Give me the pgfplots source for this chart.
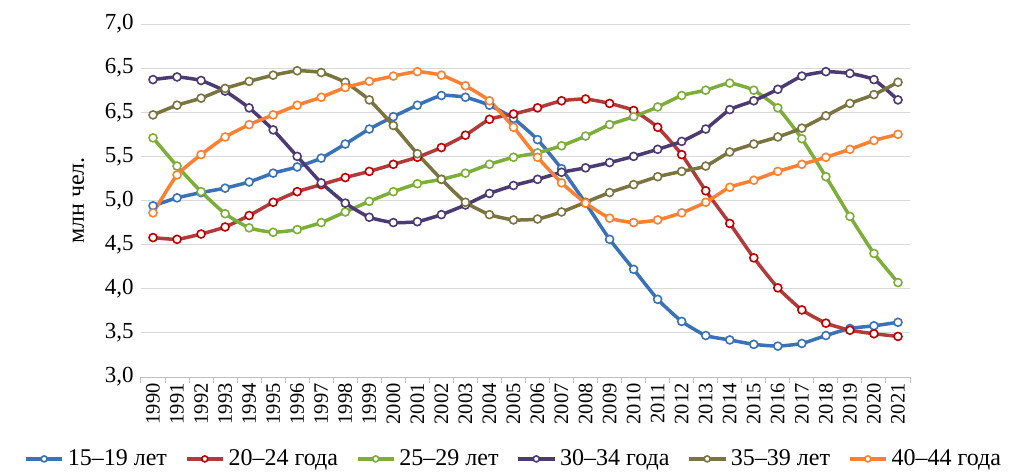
\documentclass[border=0pt]{standalone}
\usepackage{fontspec}
\setmainfont{Liberation Serif}
\usepackage{pgfplots}
\usepackage{pgfplotstable}
\pgfplotsset{compat=1.18}

\definecolor{cblue}{HTML}{3A72B8}
\definecolor{cred}{HTML}{B23A3A}
\definecolor{credm}{HTML}{C00000}
\definecolor{cgreen}{HTML}{7DAE3A}
\definecolor{cpurple}{HTML}{4C3A72}
\definecolor{colive}{HTML}{7A7440}
\definecolor{corange}{HTML}{FF8030}
\definecolor{cgrid}{HTML}{D9D9D9}
\definecolor{caxis}{HTML}{BFBFBF}

\pgfplotstableread{
year a b c d e f
1990 4.94 4.58 5.71 6.37 5.97 4.86
1991 5.03 4.56 5.39 6.40 6.08 5.29
1992 5.09 4.62 5.10 6.36 6.16 5.52
1993 5.14 4.70 4.85 6.24 6.27 5.72
1994 5.21 4.83 4.69 6.05 6.35 5.86
1995 5.31 4.98 4.64 5.80 6.42 5.97
1996 5.38 5.10 4.67 5.50 6.47 6.08
1997 5.48 5.18 4.75 5.20 6.45 6.17
1998 5.64 5.26 4.87 4.97 6.34 6.28
1999 5.81 5.33 4.99 4.81 6.14 6.35
2000 5.95 5.41 5.10 4.75 5.85 6.41
2001 6.08 5.49 5.19 4.76 5.53 6.46
2002 6.19 5.60 5.24 4.84 5.24 6.42
2003 6.17 5.74 5.31 4.95 4.98 6.30
2004 6.08 5.92 5.41 5.08 4.84 6.13
2005 5.93 5.98 5.49 5.17 4.78 5.83
2006 5.69 6.05 5.54 5.24 4.79 5.49
2007 5.36 6.13 5.62 5.32 4.87 5.20
2008 4.97 6.15 5.73 5.37 4.98 4.97
2009 4.56 6.10 5.86 5.43 5.09 4.80
2010 4.22 6.02 5.95 5.50 5.18 4.75
2011 3.88 5.83 6.06 5.58 5.27 4.78
2012 3.63 5.52 6.19 5.67 5.33 4.86
2013 3.47 5.11 6.25 5.81 5.39 4.98
2014 3.42 4.74 6.33 6.03 5.55 5.15
2015 3.37 4.35 6.25 6.13 5.64 5.23
2016 3.35 4.01 6.05 6.26 5.72 5.33
2017 3.38 3.76 5.70 6.41 5.82 5.41
2018 3.47 3.61 5.27 6.46 5.96 5.49
2019 3.55 3.53 4.82 6.44 6.10 5.58
2020 3.58 3.49 4.40 6.37 6.20 5.68
2021 3.62 3.46 4.07 6.14 6.34 5.75
}\datatable

\begin{document}
\rmfamily\fontsize{22}{26}\selectfont
\begin{tikzpicture}
\useasboundingbox (-141pt,-98pt) rectangle (878pt,377pt);
\begin{axis}[
  at={(0pt,0pt)}, anchor=south west,
  scale only axis,
  width=769pt, height=353pt,
  xmin=1989.5, xmax=2021.5,
  ymin=3, ymax=7,
  axis x line*=bottom,
  axis y line*=left,
  y axis line style={draw=none},
  x axis line style={draw=caxis, line width=1pt},
  ytick={3,3.5,4,4.5,5,5.5,6,6.5,7},
  yticklabels={{3,0},{3,5},{4,0},{4,5},{5,0},{5,5},{6,5},{6,5},{7,0}},
  ytick style={draw=none},
  xtick={1990,...,2021},
  xticklabels={1990,1991,1992,1993,1994,1995,1996,1997,1998,1999,2000,2001,2002,2003,2004,2005,2006,2007,2008,2009,2010,2011,2012,2013,2014,2015,2016,2017,2018,2019,2020,2021},
  major x tick style={draw=none},
  minor xtick={1989.5,1990.5,...,2021.5},
  minor x tick style={draw=caxis, line width=1pt},
  minor tick length=6pt,
  tick align=outside,
  x tick label style={rotate=90, anchor=east, font=\rmfamily\fontsize{20.5}{24}\selectfont, inner sep=2pt},
  y tick label style={font=\rmfamily\fontsize{23}{26}\selectfont, inner sep=3pt},
  ymajorgrids,
  major grid style={draw=cgrid, line width=1pt},
  ylabel={млн чел.},
  ylabel style={font=\rmfamily\fontsize{24}{28}\selectfont, yshift=10pt},
  legend columns=6,
  legend style={draw=none, fill=none, at={(0.484,-0.232)}, anchor=center,
    font=\rmfamily\fontsize{24}{26}\selectfont,
    nodes={inner sep=1pt},
    /tikz/every even column/.append style={column sep=17pt},
    /tikz/every odd column/.append style={column sep=3pt},
    inner sep=0pt},
  legend image code/.code={
    \draw[#1, mark repeat=2, mark phase=2, mark size=3pt] plot coordinates {(0pt,0pt) (18pt,0pt) (36pt,0pt)};
  },
  every axis plot/.append style={line width=3.5pt, mark=*, mark size=4pt, smooth, tension=0.3},
]
\addplot[cblue, mark options={fill=white, draw=cblue, line width=1.6pt}] table[x=year,y=a]{\datatable};
\addlegendentry{15–19 лет}
\addplot[cred, mark options={fill=white, draw=credm, line width=1.6pt}] table[x=year,y=b]{\datatable};
\addlegendentry{20–24 года}
\addplot[cgreen, mark options={fill=white, draw=cgreen, line width=1.6pt}] table[x=year,y=c]{\datatable};
\addlegendentry{25–29 лет}
\addplot[cpurple, mark options={fill=white, draw=cpurple, line width=1.6pt}] table[x=year,y=d]{\datatable};
\addlegendentry{30–34 года}
\addplot[colive, mark options={fill=white, draw=colive, line width=1.6pt}] table[x=year,y=e]{\datatable};
\addlegendentry{35–39 лет}
\addplot[corange, mark options={fill=white, draw=corange, line width=1.6pt}] table[x=year,y=f]{\datatable};
\addlegendentry{40–44 года}
\end{axis}
\end{tikzpicture}
\end{document}
